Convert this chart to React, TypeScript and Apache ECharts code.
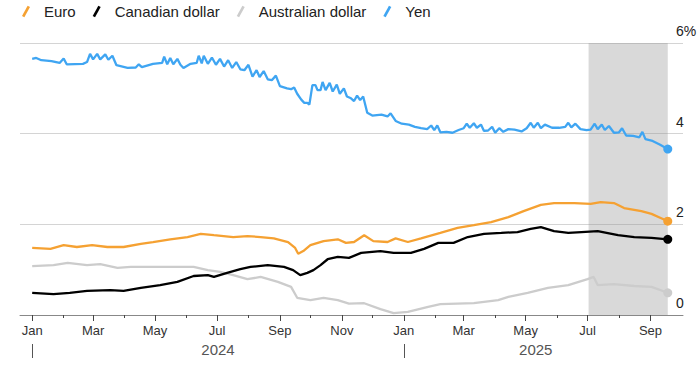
import React, { useEffect, useRef } from "react";
import * as echarts from "echarts";

const seriesNames = ["Euro", "Canadian dollar", "Australian dollar", "Yen"];
const seriesColors = ["#f5a132", "#000000", "#cccccc", "#3fa5f2"];
const yTicks = [0, 2, 4, 6];
const monthNames = ["Jan", "Feb", "Mar", "Apr", "May", "Jun", "Jul", "Aug", "Sep", "Oct", "Nov", "Dec"];
const yearLabelDates = ["2024-07-02", "2025-05-11"];
const yearStartDates = ["2024-01-01", "2025-01-01"];
const shadeRange = ["2025-07-02", "2025-09-18"];

const euro: [string, number][] = [
  ["2024-01-01", 1.48], ["2024-01-19", 1.46], ["2024-02-01", 1.54], ["2024-02-14", 1.5],
  ["2024-02-29", 1.54], ["2024-03-15", 1.5], ["2024-03-31", 1.5], ["2024-04-17", 1.57],
  ["2024-04-29", 1.61], ["2024-05-16", 1.67], ["2024-06-02", 1.72], ["2024-06-15", 1.79],
  ["2024-06-28", 1.76], ["2024-07-17", 1.72], ["2024-07-31", 1.74], ["2024-08-13", 1.72],
  ["2024-08-26", 1.69], ["2024-09-09", 1.61], ["2024-09-16", 1.48], ["2024-09-19", 1.35],
  ["2024-09-24", 1.41], ["2024-10-01", 1.54], ["2024-10-14", 1.63], ["2024-10-28", 1.67],
  ["2024-11-05", 1.59], ["2024-11-13", 1.61], ["2024-11-23", 1.76], ["2024-12-02", 1.63],
  ["2024-12-16", 1.61], ["2024-12-24", 1.69], ["2025-01-05", 1.61], ["2025-01-18", 1.69],
  ["2025-02-06", 1.81], ["2025-02-23", 1.92], ["2025-03-11", 1.98], ["2025-03-28", 2.05],
  ["2025-04-14", 2.16], ["2025-04-29", 2.29], ["2025-05-16", 2.43], ["2025-05-29", 2.47],
  ["2025-06-18", 2.47], ["2025-07-04", 2.45], ["2025-07-14", 2.49], ["2025-07-27", 2.47],
  ["2025-08-06", 2.36], ["2025-08-23", 2.29], ["2025-09-02", 2.23], ["2025-09-11", 2.14],
  ["2025-09-18", 2.07],
];

const cad: [string, number][] = [
  ["2024-01-01", 0.49], ["2024-01-22", 0.46], ["2024-02-07", 0.49], ["2024-02-24", 0.53],
  ["2024-03-18", 0.55], ["2024-03-31", 0.53], ["2024-04-17", 0.6], ["2024-05-06", 0.66],
  ["2024-05-23", 0.73], ["2024-06-08", 0.86], ["2024-06-22", 0.88], ["2024-06-28", 0.84],
  ["2024-07-11", 0.93], ["2024-07-24", 1.01], ["2024-08-03", 1.06], ["2024-08-20", 1.1],
  ["2024-09-05", 1.06], ["2024-09-14", 0.99], ["2024-09-21", 0.88], ["2024-09-28", 0.93],
  ["2024-10-04", 0.99], ["2024-10-11", 1.1], ["2024-10-18", 1.23], ["2024-10-28", 1.28],
  ["2024-11-08", 1.26], ["2024-11-20", 1.37], ["2024-12-09", 1.41], ["2024-12-22", 1.37],
  ["2025-01-08", 1.37], ["2025-01-21", 1.46], ["2025-02-04", 1.59], ["2025-02-19", 1.59],
  ["2025-03-05", 1.72], ["2025-03-21", 1.79], ["2025-04-07", 1.81], ["2025-04-23", 1.83],
  ["2025-05-06", 1.9], ["2025-05-16", 1.94], ["2025-05-29", 1.85], ["2025-06-12", 1.81],
  ["2025-06-25", 1.83], ["2025-07-11", 1.85], ["2025-07-31", 1.76], ["2025-08-16", 1.72],
  ["2025-09-02", 1.7], ["2025-09-18", 1.67],
];

const aud: [string, number][] = [
  ["2024-01-01", 1.08], ["2024-01-22", 1.1], ["2024-02-05", 1.15], ["2024-02-24", 1.1],
  ["2024-03-08", 1.12], ["2024-03-25", 1.04], ["2024-04-07", 1.06], ["2024-04-29", 1.06],
  ["2024-05-16", 1.06], ["2024-06-08", 1.06], ["2024-06-22", 0.99], ["2024-07-04", 0.95],
  ["2024-07-17", 0.88], ["2024-07-31", 0.79], ["2024-08-13", 0.84], ["2024-08-30", 0.73],
  ["2024-09-12", 0.62], ["2024-09-18", 0.38], ["2024-10-01", 0.33], ["2024-10-14", 0.38],
  ["2024-10-28", 0.33], ["2024-11-08", 0.25], ["2024-11-23", 0.26], ["2024-12-09", 0.13],
  ["2024-12-22", 0.04], ["2025-01-05", 0.07], ["2025-01-25", 0.18], ["2025-02-06", 0.24],
  ["2025-03-11", 0.26], ["2025-04-04", 0.33], ["2025-04-14", 0.4], ["2025-05-03", 0.49],
  ["2025-05-23", 0.6], ["2025-06-12", 0.66], ["2025-07-01", 0.79], ["2025-07-07", 0.84],
  ["2025-07-11", 0.66], ["2025-07-27", 0.68], ["2025-08-16", 0.64], ["2025-09-02", 0.62],
  ["2025-09-18", 0.49],
];

const yen: [string, number][] = [
  ["2024-01-01", 5.65], ["2024-01-05", 5.67], ["2024-01-10", 5.62], ["2024-01-20", 5.6],
  ["2024-01-28", 5.56], ["2024-02-01", 5.66], ["2024-02-04", 5.53], ["2024-02-20", 5.54],
  ["2024-02-24", 5.58], ["2024-02-27", 5.76], ["2024-03-01", 5.64], ["2024-03-05", 5.76],
  ["2024-03-08", 5.64], ["2024-03-13", 5.75], ["2024-03-16", 5.63], ["2024-03-20", 5.72],
  ["2024-03-24", 5.51], ["2024-04-04", 5.45], ["2024-04-12", 5.46], ["2024-04-15", 5.53],
  ["2024-04-18", 5.47], ["2024-04-29", 5.54], ["2024-05-08", 5.56], ["2024-05-10", 5.7],
  ["2024-05-13", 5.53], ["2024-05-16", 5.67], ["2024-05-19", 5.53], ["2024-05-23", 5.65],
  ["2024-05-26", 5.52], ["2024-05-29", 5.45], ["2024-06-05", 5.54], ["2024-06-11", 5.56],
  ["2024-06-13", 5.72], ["2024-06-16", 5.55], ["2024-06-18", 5.72], ["2024-06-22", 5.54],
  ["2024-06-26", 5.68], ["2024-06-30", 5.52], ["2024-07-04", 5.65], ["2024-07-08", 5.48],
  ["2024-07-12", 5.62], ["2024-07-16", 5.45], ["2024-07-20", 5.58], ["2024-07-24", 5.42],
  ["2024-07-28", 5.4], ["2024-08-01", 5.52], ["2024-08-05", 5.26], ["2024-08-09", 5.4],
  ["2024-08-12", 5.25], ["2024-08-16", 5.38], ["2024-08-20", 5.2], ["2024-08-24", 5.18],
  ["2024-08-28", 5.28], ["2024-09-01", 5.05], ["2024-09-08", 5.0], ["2024-09-12", 4.98],
  ["2024-09-15", 5.02], ["2024-09-18", 4.88], ["2024-09-22", 4.75], ["2024-09-25", 4.68],
  ["2024-09-28", 4.68], ["2024-09-30", 4.64], ["2024-10-03", 5.07], ["2024-10-06", 5.07],
  ["2024-10-08", 4.96], ["2024-10-11", 4.96], ["2024-10-13", 5.14], ["2024-10-16", 4.96],
  ["2024-10-20", 5.12], ["2024-10-23", 4.93], ["2024-10-27", 5.08], ["2024-10-30", 4.88],
  ["2024-11-03", 5.0], ["2024-11-06", 4.82], ["2024-11-10", 4.78], ["2024-11-13", 4.72],
  ["2024-11-16", 4.84], ["2024-11-19", 4.74], ["2024-11-22", 4.82], ["2024-11-26", 4.46],
  ["2024-12-01", 4.4], ["2024-12-10", 4.42], ["2024-12-16", 4.38], ["2024-12-19", 4.45],
  ["2024-12-24", 4.28], ["2024-12-30", 4.22], ["2025-01-06", 4.2], ["2025-01-12", 4.15],
  ["2025-01-18", 4.12], ["2025-01-24", 4.1], ["2025-01-28", 4.18], ["2025-01-31", 4.08],
  ["2025-02-03", 4.18], ["2025-02-06", 4.03], ["2025-02-12", 4.04], ["2025-02-18", 4.02],
  ["2025-02-24", 4.08], ["2025-03-01", 4.12], ["2025-03-04", 4.22], ["2025-03-07", 4.13],
  ["2025-03-11", 4.23], ["2025-03-14", 4.13], ["2025-03-18", 4.2], ["2025-03-21", 4.06],
  ["2025-03-25", 4.07], ["2025-03-29", 4.15], ["2025-04-01", 4.02], ["2025-04-05", 4.12],
  ["2025-04-09", 4.04], ["2025-04-14", 4.1], ["2025-04-20", 4.09], ["2025-04-27", 4.05],
  ["2025-05-02", 4.12], ["2025-05-06", 4.24], ["2025-05-09", 4.13], ["2025-05-13", 4.24],
  ["2025-05-16", 4.12], ["2025-05-20", 4.2], ["2025-05-27", 4.13], ["2025-06-03", 4.13],
  ["2025-06-09", 4.15], ["2025-06-12", 4.24], ["2025-06-15", 4.14], ["2025-06-19", 4.22],
  ["2025-06-24", 4.1], ["2025-06-30", 4.08], ["2025-07-04", 4.09], ["2025-07-08", 4.22],
  ["2025-07-11", 4.1], ["2025-07-15", 4.2], ["2025-07-18", 4.08], ["2025-07-22", 4.17],
  ["2025-07-27", 4.02], ["2025-08-01", 4.03], ["2025-08-04", 4.12], ["2025-08-08", 3.96],
  ["2025-08-15", 3.95], ["2025-08-21", 3.92], ["2025-08-24", 4.04], ["2025-08-27", 3.88],
  ["2025-09-03", 3.84], ["2025-09-10", 3.76], ["2025-09-18", 3.66],
];

const seriesData = [euro, cad, aud, yen];
const axisMin = "2023-12-20";
const axisMax = "2025-10-03";

function ts(s: string): number {
  const [y, m, d] = s.split("-").map(Number);
  return Date.UTC(y, m - 1, d);
}

function monthStarts(): number[] {
  const out: number[] = [];
  for (let y = 2024; y <= 2025; y++) {
    for (let m = 0; m < 12; m++) {
      if (y === 2025 && m > 8) break;
      out.push(Date.UTC(y, m, 1));
    }
  }
  return out;
}

export default function App() {
  const ref = useRef<HTMLDivElement>(null);
  useEffect(() => {
    if (!ref.current) return;
    const chart = echarts.init(ref.current, null, { renderer: "svg" });
    const months = monthStarts();
    const oddMonths = months.filter((v) => new Date(v).getUTCMonth() % 2 === 0);
    const evenMonths = months.filter((v) => new Date(v).getUTCMonth() % 2 === 1);
    const yearStarts = yearStartDates.map(ts);
    const yearMids = yearLabelDates.map(ts);
    const font = "'Liberation Sans', Arial, Helvetica, sans-serif";
    const xMin = ts(axisMin);
    const xMax = ts(axisMax);

    const series: any[] = seriesNames.map((name, i) => {
      const d = seriesData[i];
      const data: any[] = d.map((p, j) =>
        j === d.length - 1
          ? { value: [ts(p[0]), p[1]], symbol: "circle", symbolSize: 9 }
          : { value: [ts(p[0]), p[1]], symbol: "none" }
      );
      const s: any = {
        name,
        type: "line",
        data,
        color: seriesColors[i],
        showSymbol: true,
        showAllSymbol: true,
        symbol: "none",
        lineStyle: { width: 2.3, color: seriesColors[i] },
        itemStyle: { color: seriesColors[i] },
        z: i === 2 ? 2 : 3,
        silent: true,
      };
      if (i === 0) {
        s.markArea = {
          silent: true,
          itemStyle: { color: "rgba(150,150,150,0.36)" },
          data: [[{ xAxis: ts(shadeRange[0]) }, { xAxis: ts(shadeRange[1]) }]],
        };
      }
      return s;
    });

    const baseX = {
      type: "value",
      min: xMin,
      max: xMax,
      position: "bottom",
      splitLine: { show: false },
    };

    chart.setOption({
      animation: false,
      textStyle: { fontFamily: font },
      legend: {
        data: seriesNames,
        left: 22,
        top: 4,
        padding: 0,
        itemGap: 17,
        itemWidth: 8,
        itemHeight: 12,
        icon: "path://M0,11 L6,0 L8.5,1.2 L2.5,12.2 Z",
        selectedMode: false,
        textStyle: { fontSize: 15, color: "#222", padding: [0, 0, 0, 9], fontFamily: font },
      },
      grid: { left: 20, right: 17, top: 43, bottom: 57 },
      xAxis: [
        {
          ...baseX,
          axisLine: { show: true, onZero: false, lineStyle: { color: "#888", width: 1 } },
          axisTick: { show: true, customValues: oddMonths, length: 6, lineStyle: { color: "#444" } },
          axisLabel: {
            customValues: oddMonths,
            margin: 9,
            fontSize: 13,
            color: "#333",
            fontFamily: font,
            formatter: (v: number) => monthNames[new Date(v).getUTCMonth()],
          },
        },
        {
          ...baseX,
          axisLine: { show: false, onZero: false },
          axisTick: { show: true, customValues: evenMonths, length: 3, lineStyle: { color: "#444" } },
          axisLabel: { show: false },
        },
        {
          ...baseX,
          offset: 29,
          axisLine: { show: false, onZero: false },
          axisTick: { show: true, customValues: yearStarts, length: 14, lineStyle: { color: "#555" } },
          axisLabel: {
            customValues: yearMids,
            margin: -2,
            fontSize: 15,
            color: "#555",
            fontFamily: font,
            formatter: (v: number) => String(new Date(v).getUTCFullYear()),
          },
        },
      ],
      yAxis: {
        type: "value",
        position: "right",
        min: 0,
        max: 6,
        interval: 2,
        axisLine: { show: false },
        axisTick: { show: false },
        splitLine: { show: true, lineStyle: { color: "#d4d4d4", width: 1 } },
        axisLabel: {
          margin: -7,
          align: "left",
          verticalAlign: "bottom",
          padding: [0, 0, 5, 0],
          fontSize: 14,
          color: "#222",
          fontFamily: font,
          customValues: yTicks,
          formatter: (v: number) => (v === 6 ? "6%" : String(v)),
        },
      },
      series,
    });
    return () => chart.dispose();
  }, []);
  return <div ref={ref} style={{ width: 700, height: 372, position: "absolute", left: 0, top: 0 }} />;
}
